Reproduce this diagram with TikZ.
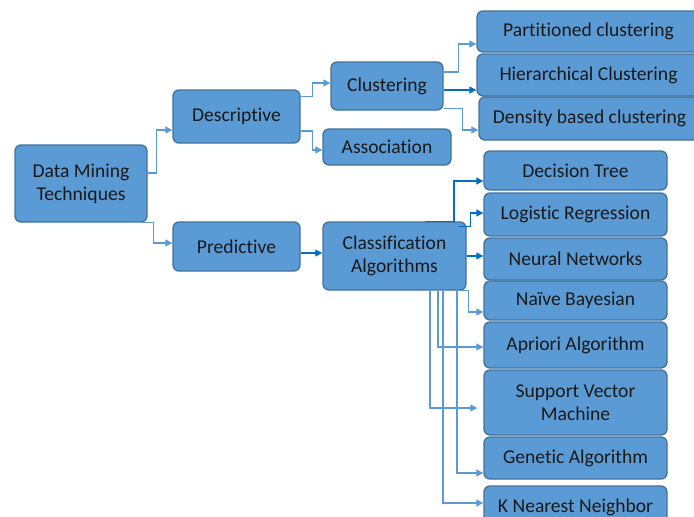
\documentclass[tikz,border=0pt]{standalone}
\usepackage{fontspec}
\setmainfont[Ligatures={NoCommon}]{Carlito}
\usetikzlibrary{arrows.meta, positioning, calc}
\definecolor{boxfill}{HTML}{5B9BD5}
\definecolor{boxline}{HTML}{41719C}
\definecolor{arrlite}{HTML}{5B9BD5}
\definecolor{arrdark}{HTML}{0070C0}
\begin{document}
\begin{tikzpicture}[
  x=1pt, y=-1pt,
  font=\fontsize{19.6}{23}\selectfont,
  >={Triangle[length=7pt,width=7pt]},
  blk/.style={rectangle, rounded corners=6pt, draw=boxline, line width=1.3pt, fill=boxfill, text=black!90, align=center, inner sep=2pt},
  ln/.style={->, draw=arrlite, line width=1.2pt},
  lnd/.style={->, draw=arrdark, line width=1.2pt},
]
\useasboundingbox (0,0) rectangle (694,517);
% root and first level
\node[blk, minimum width=132pt, minimum height=77pt] (dmt) at (81,183.5) {Data Mining\\Techniques};
\node[blk, minimum width=127pt, minimum height=53pt] (desc) at (236.5,116.5) {Descriptive};
\node[blk, minimum width=127pt, minimum height=49pt] (pred) at (236.5,246.5) {Predictive};
% second level
\node[blk, minimum width=112pt, minimum height=48pt] (clus) at (387,86) {Clustering};
\node[blk, minimum width=128pt, minimum height=36pt] (assoc) at (387,147) {Association};
\node[blk, minimum width=143pt, minimum height=68pt] (classif) at (394.5,256) {Classification\\Algorithms};
% clustering methods
\node[blk, minimum width=223pt, minimum height=41pt] (part) at (588.5,31.5) {Partitioned clustering};
\node[blk, minimum width=223pt, minimum height=42pt] (hier) at (588.5,75) {Hierarchical Clustering};
\node[blk, minimum width=221pt, minimum height=43pt] (dens) at (589.5,118.5) {Density based clustering};
% classification algorithms
\node[blk, minimum width=183pt, minimum height=39pt] (dtree) at (575.5,170.5) {Decision Tree};
\node[blk, minimum width=183pt, minimum height=43pt] (logit) at (575.5,214.5) {Logistic Regression};
\node[blk, minimum width=183pt, minimum height=42pt] (neural) at (575.5,259) {Neural Networks};
\node[blk, minimum width=183pt, minimum height=39pt] (naive) at (575.5,300.5) {Naïve Bayesian};
\node[blk, minimum width=183pt, minimum height=46pt] (apriori) at (575.5,345) {Apriori Algorithm};
\node[blk, minimum width=183pt, minimum height=65pt] (svm) at (575.5,402.5) {Support Vector\\Machine};
\node[blk, minimum width=183pt, minimum height=42pt] (genetic) at (575.5,458) {Genetic Algorithm};
\node[blk, minimum width=183pt, minimum height=42pt] (knn) at (575.5,507) {K Nearest Neighbor};
% arrows
\draw[ln] ([yshift=10.5pt]dmt.east) -- ++(9,0) |- ([yshift=-13.5pt]desc.west);
\draw[ln] ([xshift=-7pt]dmt.south east) -- ++(13,0) |- ([yshift=3.5pt]pred.west);
\draw[ln] ([yshift=-7pt]desc.north east) -- ++(12,0) |- ([yshift=3pt]clus.west);
\draw[ln] ([yshift=-14.5pt]desc.east) -- ++(12,0) |- ([yshift=-3pt]assoc.west);
\draw[ln] ([yshift=14pt]clus.east) -- ++(15,0) |- ([yshift=-12.5pt]part.west);
\draw[lnd] ([yshift=-4pt]clus.east) coordinate (c1) -- (c1 -| hier.west);
\draw[ln] ([yshift=2pt]clus.south east) -- ++(19,0) |- ([yshift=-11.5pt]dens.west);
\draw[lnd] ([yshift=-6.5pt]pred.east) coordinate (p1) -- (p1 -| classif.west);
\draw[lnd] ([xshift=30.5pt]classif.north) -- ++(29,0) |- ([yshift=-10.5pt]dtree.west);
\draw[lnd] ([shift={(-9pt,-5pt)}]classif.north east) -- ++(13,0) |- ([yshift=1.5pt]logit.west);
\draw[lnd] (classif.east) -- (classif.east -| neural.west);
\draw[ln] ([xshift=-9pt]classif.south east) -- ++(11,0) |- ([yshift=-11.5pt]naive.west);
\draw[ln] ([xshift=43.5pt]classif.south) |- ([yshift=-2pt]apriori.west);
\draw[ln, shorten >=6pt] ([xshift=35.5pt]classif.south) |- ([yshift=-5.5pt]svm.west);
\draw[ln] ([xshift=62.5pt]classif.south) |- ([yshift=-15pt]genetic.west);
\draw[ln] ([xshift=48.5pt]classif.south) |- ([yshift=4pt]knn.west);
\end{tikzpicture}
\end{document}
